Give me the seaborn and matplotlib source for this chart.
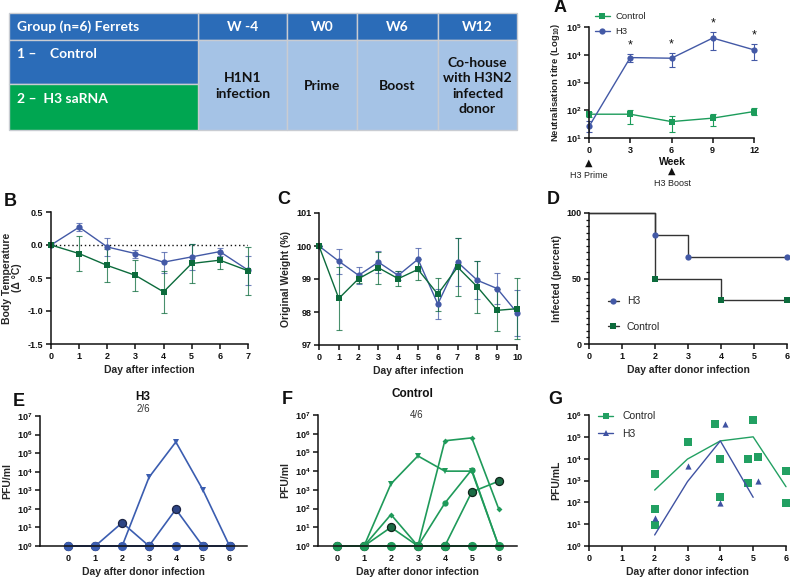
import numpy as np
import pandas as pd
import matplotlib
matplotlib.use("Agg")
import matplotlib.pyplot as plt
import seaborn as sns
from matplotlib.ticker import FixedLocator, MultipleLocator, NullLocator, FuncFormatter
from matplotlib.patches import Rectangle
from matplotlib.lines import Line2D

# ---------------- data ----------------
# Panel A: neutralisation titres
weeks = [0, 3, 6, 9, 12]
a_ctrl = [72, 72, 39, 52, 90]
a_ctrl_lo = [58, 33, 17, 26, 66]
a_ctrl_hi = [87, 106, 61, 76, 117]
a_h3 = [26, 7900, 7500, 40000, 15000]
a_h3_lo = [17, 5400, 3500, 15000, 6600]
a_h3_hi = [41, 10500, 11500, 66000, 25000]
a_star_weeks = [3, 6, 9, 12]

# Panel B: body temperature
days_b = [0, 1, 2, 3, 4, 5, 6, 7]
b_h3 = [0, 0.27, -0.03, -0.13, -0.26, -0.18, -0.10, -0.38]
b_h3_err = [0, 0.06, 0.13, 0.06, 0.16, 0.20, 0.06, 0.22]
b_ctrl = [0, -0.13, -0.31, -0.46, -0.71, -0.28, -0.23, -0.39]
b_ctrl_err = [0, 0.26, 0.25, 0.24, 0.32, 0.29, 0.13, 0.36]

# Panel C: weight
days_c = [0, 1, 2, 3, 4, 5, 6, 7, 8, 9, 10]
c_h3 = [100, 99.54, 99.11, 99.51, 99.11, 99.60, 98.24, 99.51, 98.96, 98.71, 97.98]
c_h3_err = [0, 0.38, 0.25, 0.33, 0.14, 0.35, 0.45, 0.72, 0.58, 0.48, 0.70]
c_ctrl = [100, 98.41, 99.01, 99.34, 99.01, 99.29, 98.54, 99.36, 98.76, 98.05, 98.10]
c_ctrl_err = [0, 0.95, 0.12, 0.48, 0.22, 0.33, 0.50, 0.88, 0.78, 0.64, 0.93]

# Panel D: infected percent
d_h3_x = [0, 2, 3, 6]
d_h3_y = [100, 83.3, 66.7, 66.7]
d_ctrl_x = [0, 2, 4, 6]
d_ctrl_y = [100, 50, 33.3, 33.3]

# Panel E: H3 individual ferrets (PFU/ml)
days_e = [0, 1, 2, 3, 4, 5, 6]
e_tri = [1, 1, 1, 5000, 4e5, 1100, 1]
e_circ = [1, 1, 18, 1, 95, 1, 1]
e_sq = [1, 1, 1, 1, 1, 1, 1]
e_dot = [1, 1, 1, 1, 1, 1, 1]
e_dia = [1, 1, 1, 1, 1, 1, 1]
e_hex = [1, 1, 1, 1, 1, 1, 1]

# Panel F: Control individual ferrets
f_tri = [1, 1, 2100, 6.5e4, 1e4, 1e4, 1]
f_dia = [1, 1, 48, 1, 4.2e5, 6e5, 97]
f_circ = [1, 1, 10, 1, 1, 770, 2900]
f_dot = [1, 1, 1, 1, 195, 1.2e4, 1]
f_sq = [1, 1, 1, 1, 1, 1, 1]
f_sq2 = [1, 1, 1, 1, 1, 1, 1]

# Panel G: pooled
g_ctrl_x = [2, 2, 2, 3, 3.85, 4, 4, 4.85, 4.85, 5, 5.15, 6, 6]
g_ctrl_y = [1900, 48, 9.5, 5.6e4, 3.9e5, 1e4, 180, 1e4, 770, 5.9e5, 1.15e4, 2800, 96]
g_h3_x = [2, 3, 4, 4.15, 5.15]
g_h3_y = [19, 4600, 90, 3.9e5, 950]
g_ctrl_line_x = [2, 3, 4, 5, 6]
g_ctrl_line = [365, 9600, 6.5e4, 1e5, 520]
g_h3_line_x = [2, 3, 4, 5]
g_h3_line = [3.2, 890, 6.5e4, 170]

# Table
tbl_cols = ["W -4", "W0", "W6", "W12"]
tbl_body = ["H1N1\ninfection", "Prime", "Boost", "Co-house\nwith H3N2\ninfected\ndonor"]
tbl_groups = ["1 \u2013    Control", "2 \u2013  H3 saRNA"]

# ---------------- style ----------------
sns.set_style("ticks")
plt.rcParams['font.family'] = ['Liberation Sans', 'DejaVu Sans']
plt.rcParams['font.weight'] = 'bold'
plt.rcParams['axes.labelweight'] = 'bold'
plt.rcParams['mathtext.fontset'] = 'custom'
plt.rcParams['mathtext.rm'] = 'Liberation Sans'
plt.rcParams['mathtext.bf'] = 'Liberation Sans:bold'
plt.rcParams['mathtext.it'] = 'Liberation Sans:italic'

BLUE = '#4359a6'
DKGREEN = '#0c6b3c'
AGREEN = '#1c9c5b'
E_BLUE = '#3b5db0'
E_DARK = '#2e4585'
F_GREEN = '#1f9a5a'
F_DARK = '#1b6b44'
G_GREEN = '#22a062'
G_BLUE = '#3f52a2'
AXC = '#111111'

W, H = 790, 582
fig = plt.figure(figsize=(W / 100, H / 100), dpi=100)


def add_ax(l, t, r, b):
    return fig.add_axes([l / W, 1 - b / H, (r - l) / W, (b - t) / H])


def ftxt(x, y, s, **kw):
    return fig.text(x / W, 1 - y / H, s, **kw)


def style(ax, ls=6.5):
    sns.despine(ax=ax)
    for s in ['left', 'bottom']:
        ax.spines[s].set_linewidth(1.1)
        ax.spines[s].set_color(AXC)
    ax.tick_params(axis='both', which='major', length=3.5, width=1.1, labelsize=ls,
                   pad=2, color=AXC, labelcolor=AXC)
    ax.tick_params(axis='both', which='minor', length=2, width=0.9, color=AXC)
    ax.xaxis.label.set_size(7.5)
    ax.yaxis.label.set_size(7.5)
    ax.set_facecolor('none')


def logfmt_bold(v, p):
    return r'$\mathbf{10^{%d}}$' % int(round(np.log10(v)))


def logfmt_reg(v, p):
    return r'$\mathrm{10^{%d}}$' % int(round(np.log10(v)))


# ---------------- table ----------------
axT = add_ax(0, 0, W, H)
axT.set_xlim(0, W)
axT.set_ylim(H, 0)
axT.axis('off')
HEAD = '#2b6cb8'
LIGHT = '#a5c3e6'
GREEN_T = '#00a651'
EDGE = '#c9ccd2'
xs = [9, 198, 287, 357, 438, 517]
y0, y1, y2, y3 = 13, 40, 84, 130
for i in range(1, 5):
    axT.add_patch(Rectangle((xs[i], y0), xs[i + 1] - xs[i], y1 - y0, fc=HEAD, ec=EDGE, lw=1))
    axT.add_patch(Rectangle((xs[i], y1), xs[i + 1] - xs[i], y3 - y1, fc=LIGHT, ec=EDGE, lw=1))
axT.add_patch(Rectangle((xs[0], y0), xs[1] - xs[0], y1 - y0, fc=HEAD, ec=EDGE, lw=1))
axT.add_patch(Rectangle((xs[0], y1), xs[1] - xs[0], y2 - y1, fc=HEAD, ec=EDGE, lw=1))
axT.add_patch(Rectangle((xs[0], y2), xs[1] - xs[0], y3 - y2, fc=GREEN_T, ec=EDGE, lw=1))
tfont = dict(family=['Lato', 'DejaVu Sans'], fontweight='bold', fontsize=10)
axT.text(17, 27, "Group (n=6) Ferrets", color='white', ha='left', va='center', **tfont)
for i, c in enumerate(tbl_cols):
    axT.text((xs[i + 1] + xs[i + 2]) / 2, 27, c, color='white', ha='center', va='center', **tfont)
    axT.text((xs[i + 1] + xs[i + 2]) / 2, 86, tbl_body[i], color='#111111', ha='center',
             va='center', linespacing=1.35, **tfont)
axT.text(17, 54, tbl_groups[0], color='white', ha='left', va='center', **tfont)
axT.text(17, 99, tbl_groups[1], color='white', ha='left', va='center', **tfont)

# ---------------- Panel A ----------------
axA = add_ax(589, 27, 754, 138)
axA.set_yscale('log')
axA.errorbar(weeks, a_ctrl, yerr=[np.array(a_ctrl) - np.array(a_ctrl_lo), np.array(a_ctrl_hi) - np.array(a_ctrl)],
             fmt='none', ecolor=AGREEN, elinewidth=0.8, capsize=2.5, capthick=0.8, clip_on=False)
axA.errorbar(weeks, a_h3, yerr=[np.array(a_h3) - np.array(a_h3_lo), np.array(a_h3_hi) - np.array(a_h3)],
             fmt='none', ecolor=BLUE, elinewidth=0.8, capsize=2.5, capthick=0.8, clip_on=False)
sns.lineplot(x=weeks, y=a_ctrl, ax=axA, color=AGREEN, marker='s', markersize=4.5,
             markeredgewidth=0, linewidth=1, clip_on=False)
sns.lineplot(x=weeks, y=a_h3, ax=axA, color=BLUE, marker='o', markersize=4.5,
             markeredgewidth=0, linewidth=1, clip_on=False)
axA.set_xlim(0, 12)
axA.set_ylim(10, 1e5)
axA.set_xticks(weeks)
axA.yaxis.set_major_locator(FixedLocator([10, 100, 1e3, 1e4, 1e5]))
axA.yaxis.set_minor_locator(NullLocator())
axA.yaxis.set_major_formatter(FuncFormatter(logfmt_reg))
style(axA, ls=6.5)
axA.set_ylabel(r"Neutralisation titre (Log$_{\mathbf{10}}$)", fontsize=6.8, labelpad=3)
for wk in a_star_weeks:
    axA.text(wk, a_h3_hi[weeks.index(wk)] * 1.25, '*', ha='center', va='bottom',
             fontsize=9, color=AXC, fontweight='normal')
legA = [Line2D([], [], color=AGREEN, marker='s', markersize=4.5, mew=0, lw=1, label='Control'),
        Line2D([], [], color=BLUE, marker='o', markersize=4.5, mew=0, lw=1, label='H3')]
axA.legend(handles=legA, loc='upper left', bbox_to_anchor=(0.012, 1.165), frameon=False,
           prop={'weight': 'normal', 'size': 6.8}, handlelength=1.6, labelspacing=0.6,
           handletextpad=0.6, borderaxespad=0)
ftxt(589, 163, "\u25B2", ha='center', va='center', fontsize=7, family=['DejaVu Sans'], color=AXC)
ftxt(589, 175, "H3 Prime", ha='center', va='center', fontsize=6.5, fontweight='normal', color='#222')
ftxt(672, 162, "Week", ha='center', va='center', fontsize=7.5, fontweight='bold', color=AXC)
ftxt(672, 171, "\u25B2", ha='center', va='center', fontsize=7, family=['DejaVu Sans'], color=AXC)
ftxt(672, 183, "H3 Boost", ha='center', va='center', fontsize=6.5, fontweight='normal', color='#222')

# ---------------- Panel B ----------------
axB = add_ax(51, 212, 248, 344)
axB.plot([0, 7], [0, 0], ls=(0, (1, 2)), color=AXC, lw=1)
axB.errorbar(days_b, b_h3, yerr=b_h3_err, fmt='none', ecolor=BLUE, elinewidth=0.8,
             capsize=2.5, capthick=0.8, alpha=0.75, clip_on=False)
axB.errorbar(days_b, b_ctrl, yerr=b_ctrl_err, fmt='none', ecolor=DKGREEN, elinewidth=0.8,
             capsize=2.5, capthick=0.8, alpha=0.75, clip_on=False)
sns.lineplot(x=days_b, y=b_h3, ax=axB, color=BLUE, marker='o', markersize=4.5,
             markeredgewidth=0, linewidth=1, clip_on=False)
sns.lineplot(x=days_b, y=b_ctrl, ax=axB, color=DKGREEN, marker='s', markersize=4.5,
             markeredgewidth=0, linewidth=1, clip_on=False)
axB.set_xlim(0, 7)
axB.set_ylim(-1.5, 0.5)
axB.set_xticks(days_b)
axB.set_yticks([-1.5, -1.0, -0.5, 0.0, 0.5])
axB.set_yticklabels(['-1.5', '-1.0', '-0.5', '0.0', '0.5'])
style(axB)
axB.set_xlabel("Day after infection", labelpad=3)
axB.set_ylabel("Body Temperature\n(\u0394 \u00B0C)", labelpad=4, linespacing=1.0)

# ---------------- Panel C ----------------
axC = add_ax(319, 213, 517, 345)
axC.errorbar(days_c, c_h3, yerr=c_h3_err, fmt='none', ecolor=BLUE, elinewidth=0.8,
             capsize=2.5, capthick=0.8, alpha=0.75, clip_on=False)
axC.errorbar(days_c, c_ctrl, yerr=c_ctrl_err, fmt='none', ecolor=DKGREEN, elinewidth=0.8,
             capsize=2.5, capthick=0.8, alpha=0.75, clip_on=False)
sns.lineplot(x=days_c, y=c_h3, ax=axC, color=BLUE, marker='o', markersize=4.5,
             markeredgewidth=0, linewidth=1, clip_on=False)
sns.lineplot(x=days_c, y=c_ctrl, ax=axC, color=DKGREEN, marker='s', markersize=4.5,
             markeredgewidth=0, linewidth=1, clip_on=False)
axC.set_xlim(0, 10)
axC.set_ylim(97, 101)
axC.set_xticks(days_c)
axC.set_yticks([97, 98, 99, 100, 101])
style(axC)
axC.set_xlabel("Day after infection", labelpad=3)
axC.set_ylabel("Original Weight (%)", labelpad=4)

# ---------------- Panel D ----------------
axD = add_ax(589, 213, 787, 344)
sns.lineplot(x=d_h3_x, y=d_h3_y, ax=axD, color='#333333', linewidth=1, drawstyle='steps-post',
             clip_on=False)
sns.lineplot(x=d_ctrl_x, y=d_ctrl_y, ax=axD, color='#333333', linewidth=1, drawstyle='steps-post',
             clip_on=False)
axD.plot(d_h3_x[1:], d_h3_y[1:], ls='none', marker='o', ms=4.5, mew=0, color=BLUE, clip_on=False)
axD.plot(d_ctrl_x[1:], d_ctrl_y[1:], ls='none', marker='s', ms=4.5, mew=0, color=DKGREEN, clip_on=False)
axD.set_xlim(0, 6)
axD.set_ylim(0, 100)
axD.set_xticks(range(0, 7))
axD.set_yticks([0, 50, 100])
axD.yaxis.set_minor_locator(MultipleLocator(5))
style(axD)
axD.set_xlabel("Day after donor infection", labelpad=3)
axD.set_ylabel("Infected (percent)", labelpad=3)
legD = [Line2D([], [], color='#333333', marker='o', markersize=4.5, mew=0, mfc=BLUE, mec=BLUE,
               lw=1, label='H3'),
        Line2D([], [], color='#333333', marker='s', markersize=4.5, mew=0, mfc=DKGREEN, mec=DKGREEN,
               lw=1, label='Control')]
axD.legend(handles=legD, loc='lower left', bbox_to_anchor=(0.076, 0.06), frameon=False,
           prop={'weight': 'normal', 'size': 7.5}, handlelength=1.0, labelspacing=1.5,
           handletextpad=0.8, borderaxespad=0)

# ---------------- Panel E ----------------
axE = add_ax(40, 416, 247, 546)
axE.set_yscale('log')
e_specs = [(e_circ, 'o', 5.8, E_DARK, '#1c2444'),
           (e_sq, 's', 3.8, E_BLUE, E_BLUE),
           (e_dia, 'D', 3.3, E_BLUE, E_BLUE),
           (e_hex, 'h', 4.2, E_BLUE, E_BLUE),
           (e_dot, 'o', 6.6, E_BLUE, E_BLUE),
           (e_tri, 'v', 3.8, E_BLUE, E_BLUE)]
for vals, mk, ms, fc, ec in e_specs:
    sns.lineplot(x=days_e, y=vals, ax=axE, color=E_BLUE, linewidth=1.2, marker=mk, markersize=ms,
                 markerfacecolor=fc, markeredgecolor=ec, markeredgewidth=0.9 if ec != fc else 0,
                 clip_on=False)
axE.set_xlim(-1.06, 6.65)
axE.set_ylim(1, 1e7)
axE.set_xticks(days_e)
axE.yaxis.set_major_locator(FixedLocator([10.0 ** k for k in range(8)]))
axE.yaxis.set_minor_locator(NullLocator())
axE.yaxis.set_major_formatter(FuncFormatter(logfmt_bold))
style(axE)
axE.set_xlabel("Day after donor infection", labelpad=3)
axE.set_ylabel("PFU/ml", labelpad=3)
ftxt(143, 397, "H3", ha='center', va='center', fontsize=8.5, fontweight='bold', color=AXC)
ftxt(143, 409, "2/6", ha='center', va='center', fontsize=7, fontweight='normal', color='#333')

# ---------------- Panel F ----------------
axF = add_ax(318, 415, 517, 546)
axF.set_yscale('log')
f_specs = [(f_circ, 'o', 5.8, F_DARK, '#10241a'),
           (f_sq, 's', 3.8, F_GREEN, F_GREEN),
           (f_dot, 'o', 4.5, F_GREEN, F_GREEN),
           (f_dia, 'D', 3.0, F_GREEN, F_GREEN),
           (f_tri, 'v', 3.8, F_GREEN, F_GREEN),
           (f_sq2, 'o', 6.6, F_GREEN, F_GREEN)]
for vals, mk, ms, fc, ec in f_specs:
    sns.lineplot(x=days_e, y=vals, ax=axF, color=F_GREEN, linewidth=1.2, marker=mk, markersize=ms,
                 markerfacecolor=fc, markeredgecolor=ec, markeredgewidth=0.9 if ec != fc else 0,
                 clip_on=False)
axF.set_xlim(-0.71, 6.68)
axF.set_ylim(1, 1e7)
axF.set_xticks(days_e)
axF.yaxis.set_major_locator(FixedLocator([10.0 ** k for k in range(8)]))
axF.yaxis.set_minor_locator(NullLocator())
axF.yaxis.set_major_formatter(FuncFormatter(logfmt_bold))
style(axF)
axF.set_xlabel("Day after donor infection", labelpad=3)
axF.set_ylabel("PFU/ml", labelpad=3)
ftxt(412, 394, "Control", ha='center', va='center', fontsize=8.5, fontweight='bold', color=AXC)
ftxt(417, 415, "4/6", ha='center', va='center', fontsize=7, fontweight='normal', color='#333')

# ---------------- Panel G ----------------
axG = add_ax(589, 415, 786, 546)
axG.set_yscale('log')
sns.lineplot(x=g_ctrl_line_x, y=g_ctrl_line, ax=axG, color=G_GREEN, linewidth=1, clip_on=False)
sns.lineplot(x=g_h3_line_x, y=g_h3_line, ax=axG, color=G_BLUE, linewidth=1, clip_on=False)
sns.scatterplot(x=g_ctrl_x, y=g_ctrl_y, ax=axG, color=G_GREEN, marker='s', s=26, linewidth=0,
                clip_on=False)
sns.scatterplot(x=g_h3_x, y=g_h3_y, ax=axG, color=G_BLUE, marker='^', s=20, linewidth=0,
                clip_on=False)
axG.set_xlim(0, 6)
axG.set_ylim(1, 1e6)
axG.set_xticks(range(0, 7))
axG.yaxis.set_major_locator(FixedLocator([10.0 ** k for k in range(7)]))
axG.yaxis.set_minor_locator(NullLocator())
axG.yaxis.set_major_formatter(FuncFormatter(logfmt_bold))
style(axG)
axG.set_xlabel("Day after donor infection", labelpad=3)
axG.set_ylabel("PFU/mL", labelpad=3)
legG = [Line2D([], [], color=G_GREEN, marker='s', markersize=5, mew=0, lw=1, label='Control'),
        Line2D([], [], color=G_BLUE, marker='^', markersize=4.5, mew=0, lw=1, label='H3')]
axG.legend(handles=legG, loc='upper left', bbox_to_anchor=(0.025, 1.06), frameon=False,
           prop={'weight': 'normal', 'size': 7.5}, handlelength=1.45, labelspacing=0.75,
           handletextpad=0.85, borderaxespad=0)

# ---------------- panel letters ----------------
for lt, x, y in [('A', 560, 8), ('B', 10, 201), ('C', 284, 200), ('D', 553, 200),
                 ('E', 19, 402), ('F', 287, 399), ('G', 555, 400)]:
    ftxt(x, y, lt, ha='center', va='center', fontsize=13, fontweight='bold', color=AXC)

fig.savefig("out.png", dpi=100)
